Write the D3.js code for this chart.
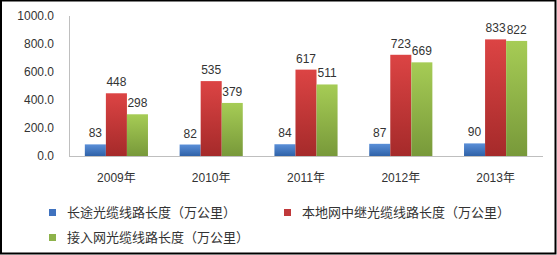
<!DOCTYPE html>
<html>
<head>
<meta charset="utf-8">
<script src="https://cdn.jsdelivr.net/npm/d3@7"></script>
<style>
  body { margin: 0; background: #fff; }
  svg { display: block; }
  text { font-family: "Liberation Sans", "Noto Sans CJK SC", sans-serif; fill: #333; }
</style>
</head>
<body>
<svg></svg>
<script>
// data
var years = ["2009年", "2010年", "2011年", "2012年", "2013年"];
var longHaul = [83, 82, 84, 87, 90];
var localRelay = [448, 535, 617, 723, 833];
var accessNet = [298, 379, 511, 669, 822];
var seriesNames = ["长途光缆线路长度（万公里）", "本地网中继光缆线路长度（万公里）", "接入网光缆线路长度（万公里）"];
var yTicks = [0, 200, 400, 600, 800, 1000];

var W = 557, H = 255;
var margin = {top: 16, right: 14, bottom: 99, left: 69},
    width = W - margin.left - margin.right,
    height = H - margin.top - margin.bottom;

var svg = d3.select("svg").attr("width", W).attr("height", H);

// gradients
var defs = svg.append("defs");
var gradColors = [["#5a8fd8", "#2f62a8"], ["#dc4444", "#a52a2a"], ["#a6cc55", "#78993a"]];
gradColors.forEach(function(c, i) {
  var g = defs.append("linearGradient").attr("id", "g" + i)
    .attr("x1", 0).attr("y1", 0).attr("x2", 0).attr("y2", 1);
  g.append("stop").attr("offset", "0%").attr("stop-color", c[0]);
  g.append("stop").attr("offset", "100%").attr("stop-color", c[1]);
});
var legendColors = ["#3f72bf", "#c0393b", "#8db24a"];

// border
svg.append("rect").attr("x", 1).attr("y", 0.5).attr("width", W - 2.5).attr("height", H - 2)
  .attr("fill", "none").attr("stroke", "#000").attr("stroke-width", 2);

var g = svg.append("g").attr("transform", "translate(" + margin.left + "," + margin.top + ")");

var x = d3.scaleBand().domain(years).range([0, width]).paddingInner(0).paddingOuter(0);
var y = d3.scaleLinear().domain([0, 1000]).range([height, 0]);
var bw = x.bandwidth() * 0.222;

// y axis
g.append("line").attr("x1", 0.5).attr("x2", 0.5).attr("y1", 0).attr("y2", height)
  .attr("stroke", "#bfbfbf");
g.selectAll(".ytick").data(yTicks).enter().append("text")
  .attr("x", -15).attr("y", function(d) { return y(d); })
  .attr("dy", "0.35em").attr("text-anchor", "end")
  .style("font-size", "12px")
  .text(function(d) { return d3.format(".1f")(d); });

// bars
var series = [longHaul, localRelay, accessNet];
series.forEach(function(vals, s) {
  g.selectAll(".bar" + s).data(vals).enter().append("rect")
    .attr("x", function(d, i) { return x(years[i]) + x.bandwidth() / 2 + (s - 1.5) * bw; })
    .attr("y", function(d) { return y(d); })
    .attr("width", bw)
    .attr("height", function(d) { return height - y(d); })
    .attr("fill", "url(#g" + s + ")");
  g.selectAll(".lab" + s).data(vals).enter().append("text")
    .attr("x", function(d, i) { return x(years[i]) + x.bandwidth() / 2 + (s - 1) * bw; })
    .attr("y", function(d) { return y(d) - 7; })
    .attr("text-anchor", "middle")
    .style("font-size", "12px")
    .text(function(d) { return d; });
});

// x axis
g.append("line").attr("x1", 0).attr("x2", width).attr("y1", height + 0.5).attr("y2", height + 0.5)
  .attr("stroke", "#bfbfbf");
g.selectAll(".xlab").data(years).enter().append("text")
  .attr("x", function(d) { return x(d) + x.bandwidth() / 2; })
  .attr("y", height + 26)
  .attr("text-anchor", "middle")
  .style("font-size", "12px")
  .text(function(d) { return d; });

// legend
var legendPos = [[49, 212], [284, 212], [49, 237]];
seriesNames.forEach(function(name, i) {
  var p = legendPos[i];
  svg.append("rect").attr("x", p[0]).attr("y", p[1] - 3).attr("width", 7).attr("height", 7)
    .attr("fill", legendColors[i]);
  svg.append("text").attr("x", p[0] + 18).attr("y", p[1]).attr("dy", "0.35em")
    .style("font-size", "13px")
    .style("font-family", "'Noto Sans CJK SC', sans-serif")
    .text(name);
});
</script>
</body>
</html>
